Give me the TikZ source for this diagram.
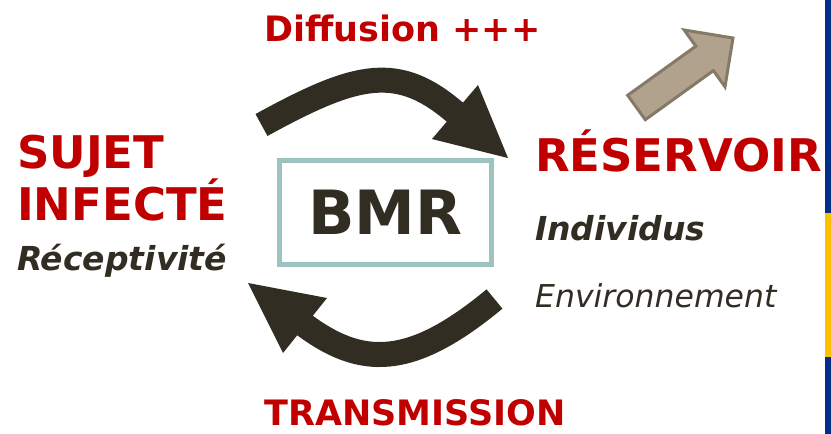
\documentclass[tikz,border=0pt]{standalone}
\usepackage{fontspec}
\setmainfont{DejaVu Sans}[
  ItalicFont={DejaVu Sans Oblique},
  BoldItalicFont={DejaVu Sans Bold Oblique}]
\usetikzlibrary{positioning}

\definecolor{titlered}{HTML}{C00000}
\definecolor{darkink}{HTML}{322D23}
\definecolor{boxteal}{HTML}{9DC3C1}
\definecolor{tanfill}{HTML}{B0A28C}
\definecolor{tanedge}{HTML}{857A68}
\definecolor{slideblue}{HTML}{003087}
\definecolor{slideyellow}{HTML}{FFC000}

\tikzset{
  bigred/.style={text=titlered, inner sep=0pt, anchor=base west,
    font=\fontsize{45}{52}\selectfont\bfseries},
  midred/.style={text=titlered, inner sep=0pt, anchor=base west,
    font=\fontsize{35}{40}\selectfont\bfseries},
  subbold/.style={text=darkink, inner sep=0pt, anchor=base west,
    font=\fontsize{33}{40}\selectfont\bfseries\itshape},
  sublight/.style={text=darkink, inner sep=0pt, anchor=base west,
    font=\fontsize{31.5}{40}\selectfont\itshape},
  cycleshaft/.style={draw=darkink, line width=25pt},
  cyclehead/.style={fill=darkink},
}

\begin{document}
\begin{tikzpicture}[x=1pt, y=-1pt]
    \useasboundingbox (0,0) rectangle (831,434);

    % slide edge on the right
    \fill [slideblue] (825,0) rectangle (831,213);
    \fill [slideyellow] (825,213) rectangle (831,357);
    \fill [slideblue] (825,357) rectangle (831,434);

    \node [midred] (diffusion) at (264,41) {Diffusion +++};
    \node [midred] (transmission) at (264,425) {TRANSMISSION};

    \node [bigred] (sujet) at (17,168) {SUJET};
      \node [bigred, below=52pt of sujet.base west, anchor=base west] (infecte) {INFECTÉ};
      \node [subbold, below=50pt of infecte.base west, anchor=base west] (receptivite) {Réceptivité};

    \node [bigred] (reservoir) at (535,171) {RÉSERVOIR};
      \node [subbold, below=69pt of reservoir.base west, anchor=base west] (individus) {Individus};
      \node [sublight, below=67pt of individus.base west, anchor=base west] (environnement) {Environnement};

    \node [draw=boxteal, line width=5pt, minimum width=212pt, minimum height=104pt,
      text=darkink, font=\fontsize{61}{61}\selectfont\bfseries] (bmr) at (385.5,212.5) {BMR};

    % cycle arrows
    \coordinate (diffstart) at (261.5,125);
    \coordinate (diffbase) at (457,114);
    \coordinate (difftip) at (508,158);
    \path [cycleshaft] (diffstart) .. controls (358,72) and (398.5,63) .. (diffbase);
    \fill [cyclehead] (432,139) -- (478,85) -- (difftip) -- cycle;

    \coordinate (transstart) at (494.5,299);
    \coordinate (transbase) at (303,324);
    \coordinate (transtip) at (248,283);
    \path [cycleshaft] (transstart) .. controls (410,369) and (361,367.5) .. (transbase);
    \fill [cyclehead] (327,298) -- (283,353) -- (transtip) -- cycle;

    % tan arrow going out
    \filldraw [fill=tanfill, draw=tanedge, line width=3pt, line join=miter]
      (627.7,95.3) -- (695.8,46.2) -- (684.2,30.0) -- (733,38)
      -- (725.0,86.8) -- (713.4,70.6) -- (645.3,119.7) -- cycle;
\end{tikzpicture}
\end{document}
